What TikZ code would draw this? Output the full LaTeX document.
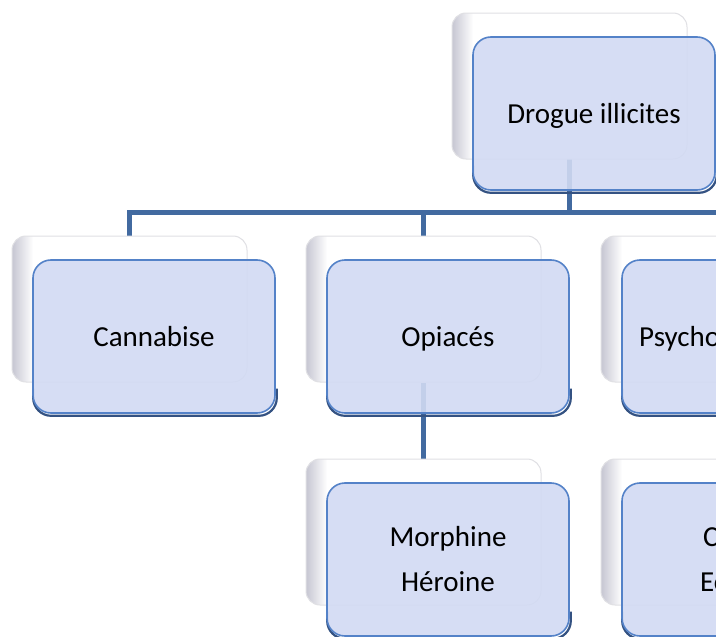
\documentclass[tikz,border=0pt]{standalone}
\usepackage{fontspec}
\setmainfont{Carlito}
\usetikzlibrary{calc}
\definecolor{frontfill}{RGB}{210,218,243}
\definecolor{frontedge}{RGB}{84,130,200}
\definecolor{shadowedge}{RGB}{52,82,130}
\definecolor{linkcol}{RGB}{66,106,160}
\definecolor{backedge}{RGB}{224,224,228}
\definecolor{bevelgray}{RGB}{198,198,210}
\pgfdeclarehorizontalshading{bevelshade}{100bp}{color(0bp)=(bevelgray); color(25bp)=(bevelgray); color(29.5bp)=(white); color(100bp)=(white)}
\pgfdeclarelayer{links}
\pgfdeclarelayer{backs}
\pgfdeclarelayer{shadows}
\pgfsetlayers{links,backs,shadows,main}
\tikzset{
  backbox/.style={draw=backedge, line width=1pt, rounded corners=14pt,
    minimum width=235pt, minimum height=146pt, inner sep=0pt, shading=bevelshade},
  frontbox/.style={draw=frontedge, line width=1.6pt, rounded corners=18pt,
    minimum width=242pt, minimum height=153pt, inner sep=0pt,
    fill=frontfill, fill opacity=0.9, text opacity=1,
    font=\fontsize{29}{45}\selectfont, align=center},
  oneline/.style={text height=20pt, text depth=0pt},
  shadowline/.style={draw=shadowedge, line width=2.2pt, rounded corners=18pt},
  link/.style={draw=linkcol, line width=5.5pt, line join=miter},
  parttext/.style={font=\fontsize{29}{45}\selectfont, inner sep=0pt, anchor=base west},
}
\newcommand{\boxshadow}[1]{%
  \begin{pgfonlayer}{shadows}
  \draw[shadowline] ([shift={(1,52)}]#1.east) -- ([shift={(1,2)}]#1.south east)
    -- ([shift={(1,2)}]#1.south west) -- ([shift={(1,52)}]#1.west);
  \end{pgfonlayer}}
\begin{document}
\begin{tikzpicture}[x=1pt,y=-1pt]
\path[use as bounding box] (0,0) rectangle (716,637);
\clip (0,0) rectangle (716,637);
% back boxes
\begin{pgfonlayer}{backs}
\node[backbox] (topback) at (569.5,86) {};
\node[backbox] (canback) at (129.5,309) {};
\node[backbox] (opiback) at (423.5,309) {};
\node[backbox] (psyback) at (718.5,309) {};
\node[backbox] (morback) at (423.5,532) {};
\node[backbox] (cocback) at (718.5,532) {};
\end{pgfonlayer}
% front boxes
\node[frontbox,oneline] (top) at (594,113.5) {Drogue illicites};
\node[frontbox,oneline] (can) at (154,336.5) {Cannabise};
\node[frontbox,oneline] (opi) at (448,336.5) {Opiacés};
\node[frontbox] (psy) at (743,336.5) {};
\node[frontbox] (mor) at (448,559.5) {Morphine\\Héroine};
\node[frontbox] (coc) at (743,559.5) {};
\node[parttext] (psytext) at (639,346) {Psycho};
\node[parttext] (coctext1) at (703,546) {C};
\node[parttext] (coctext2) at (700,591) {Ec};
\boxshadow{top}
\boxshadow{can}
\boxshadow{opi}
\boxshadow{psy}
\boxshadow{mor}
\boxshadow{coc}
% connectors
\coordinate (barend) at (760,212.5);
\begin{pgfonlayer}{links}
\fill[white] (0,0) rectangle (716,637);
\draw[link] ([yshift=6]topback.south) -- (topback.south |- barend);
\draw[link] (canback.north) -- (canback.north |- barend) -- (barend);
\draw[link] (opiback.north) -- (opiback.north |- barend);
\draw[link] (psyback.north) -- (psyback.north |- barend);
\draw[link] (opiback.south) -- (morback.north);
\draw[link] (psyback.south) -- (cocback.north);
\end{pgfonlayer}
\end{tikzpicture}
\end{document}
